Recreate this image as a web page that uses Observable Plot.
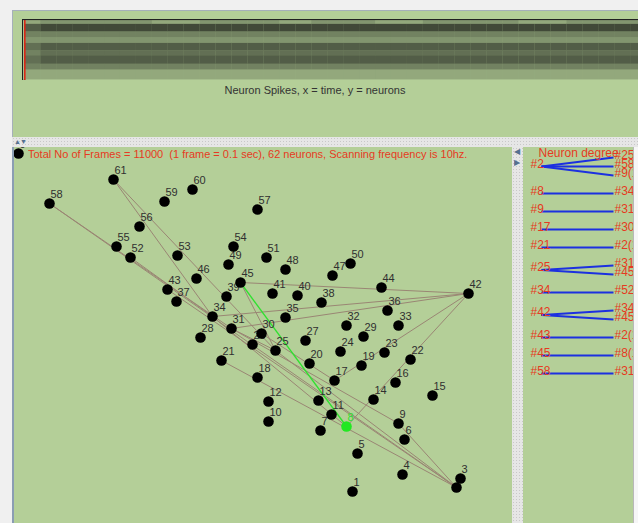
<!DOCTYPE html>
<html><head><meta charset="utf-8">
<script src="https://cdn.jsdelivr.net/npm/d3@7"></script>
<script src="https://cdn.jsdelivr.net/npm/@observablehq/plot@0.6"></script>
<style>
html,body{margin:0;padding:0}
body{width:638px;height:523px;overflow:hidden;background:#f0f0f0;position:relative;font-family:Arial,"Liberation Sans",sans-serif}
.abs{position:absolute;overflow:hidden}
.green{background:#b4cf98}
.dots{background-color:#e6e6e6;background-image:radial-gradient(#c8c8c8 0.6px,transparent 0.7px);background-size:3px 3px}
svg{max-width:none!important}
</style></head><body>

<div class="abs green" style="left:12px;top:10px;width:626px;height:127px;border-left:1px solid #a6b0ba;border-top:1px solid #a6b0ba"></div>
<div id="raster" class="abs" style="left:22px;top:19px;width:616px;height:61px"></div>
<div class="abs" style="left:12px;top:84px;width:606px;text-align:center;font-size:11px;color:#333">Neuron Spikes, x = time, y = neurons</div>

<div class="abs dots" style="left:12px;top:137px;width:626px;height:10px"></div>
<div class="abs" style="left:14px;top:137px;width:16px;height:10px;font-size:7px;line-height:10px;color:#56708f;letter-spacing:-1px">▲▼</div>

<div id="net" class="abs green" style="left:12px;top:147px;width:500px;height:376px;border-left:2px solid #8b9db3;box-sizing:border-box"></div>
<div class="abs" style="left:28px;top:148px;font-size:11px;color:#e63a22;white-space:nowrap">Total No of Frames = 11000&nbsp; (1 frame = 0.1 sec), 62 neurons, Scanning frequency is 10hz.</div>

<div class="abs dots" style="left:512px;top:147px;width:11px;height:376px"></div>
<div class="abs" style="left:514px;top:146px;width:9px;height:24px;font-size:8px;line-height:11px;color:#56708f">◀<br>▶</div>

<div id="deg" class="abs green" style="left:523px;top:147px;width:110px;height:376px"></div>
<div class="abs" style="left:633px;top:147px;width:5px;height:376px;background:#f6f6f6;border-left:1px solid #b8b8b8"></div>

<script>
// ---------------- DATA ----------------
// Neuron layout (ids and map coordinates in the network view)
const neuronIds = [0,1,2,3,4,5,6,7,8,9,10,11,12,13,14,15,16,17,18,19,20,21,22,23,24,25,26,27,28,29,30,31,32,33,34,35,36,37,38,39,40,41,42,43,44,45,46,47,48,49,50,51,52,53,54,55,56,57,58,59,60,61];
const neuronX = [18,352,456,460,402,357,404,320,346,398,268,331,268,318,373,432,395,334,257,361,309,221,410,384,340,275,252,305,200,363,261,231,346,398,212,285,387,176,321,226,297,272,468,167,381,240,196,332,285,228,350,266,130,177,233,116,139,257,49,164,192,113];
const neuronY = [153,491,487,478,474,453,439,430,426,423,421,414,401,400,399,395,382,380,377,365,363,360,359,352,351,350,344,340,337,336,333,328,325,325,316,317,310,301,302,296,295,293,293,289,287,282,278,275,269,264,263,257,257,255,246,246,226,209,203,201,189,179];

// Connections between neurons
const edgeFrom = [58,58,61,61,52,43,21,25,2,9,8,17,25,25,42,42,42,42,42,45];
const edgeTo   = [31,2, 34,25,34,2, 2, 2, 9,31,34,30,31,45,34,45,31,17,8, 8];
const activeNeuron = 8;
const activeEdge = [45, 8];

// Degree panel
const degreeSources = [2,8,9,17,21,25,34,42,43,45,58];
const degreeTargets = [["#25","#58","#9(1)"],["#34"],["#31"],["#30"],["#2(1)"],["#31","#45"],["#52"],["#34","#45"],["#2(1)"],["#8(1)"],["#31"]];

// Spike raster: neuron bands (first, last+1) and spike density per time bin (0-9)
const totalFrames = 11000;
const currentFrame = 0;
const rasterBandStart = [0,4,12,18,24,32,37,46,52];
const rasterBandEnd   = [4,12,18,24,32,37,46,52,62];
const rasterDensity = [
  "2333333322233333223333222333333222333332",
  "6777777777777777777777777777777777777777",
  "4444444444444444444444444444444444444444",
  "3333333333333333333333333333333333333333",
  "5666666666666666666666666666666666666666",
  "4555555555555555555555555555555555555555",
  "5666666666666666666666666666666666666666",
  "4444444444444444444444444444444444444444",
  "2222222222222222222222222222222222222222"
];

// ---------------- RASTER ----------------
const nBins = rasterDensity[0].length;
const binW = totalFrames / nBins;
const rasterCells = [];
rasterDensity.forEach((row, b) => {
  [...row].forEach((ch, i) => {
    rasterCells.push({x1: i*binW, x2: (i+1)*binW, y1: rasterBandStart[b], y2: rasterBandEnd[b], d: +ch});
  });
});
const raster = Plot.plot({
  width: 640, height: 61, margin: 0,
  x: {domain: [-40, totalFrames], range: [0, 640], axis: null},
  y: {domain: [0, 62], range: [1, 60], axis: null},
  style: {background: "transparent"},
  marks: [
    Plot.rect(rasterCells, {x1: "x1", x2: "x2", y1: "y1", y2: "y2", fill: "#101010", fillOpacity: d => d.d / 10, inset: 0}),
    Plot.ruleX([currentFrame], {stroke: "#e02010", strokeWidth: 1.5}),
    Plot.frame({stroke: "#222", strokeWidth: 1.2})
  ]
});
document.getElementById("raster").append(raster);

// ---------------- NETWORK ----------------
const nodes = neuronIds.map((id, i) => ({id, x: neuronX[i], y: neuronY[i]}));
const byId = new Map(nodes.map(d => [d.id, d]));
const edges = edgeFrom.map((s, i) => ({s: byId.get(s), t: byId.get(edgeTo[i]),
  active: s === activeEdge[0] && edgeTo[i] === activeEdge[1]}));
const net = Plot.plot({
  width: 500, height: 376, margin: 0,
  x: {domain: [14, 514], range: [0, 500], axis: null},
  y: {domain: [147, 523], range: [0, 376], axis: null},
  style: {background: "transparent", overflow: "hidden"},
  marks: [
    Plot.link(edges.filter(e => !e.active), {x1: e => e.s.x, y1: e => e.s.y, x2: e => e.t.x, y2: e => e.t.y, stroke: "#9a8674", strokeWidth: 1}),
    Plot.link(edges.filter(e => e.active), {x1: e => e.s.x, y1: e => e.s.y, x2: e => e.t.x, y2: e => e.t.y, stroke: "#30e030", strokeWidth: 1.3}),
    Plot.text(nodes.filter(d => d.id !== activeNeuron), {x: "x", y: "y", text: "id", textAnchor: "start", dx: 1, dy: -9, fontSize: 11, fill: "#303030", fontFamily: "Arial"}),
    Plot.text(nodes.filter(d => d.id === activeNeuron), {x: "x", y: "y", text: "id", textAnchor: "start", dx: 1, dy: -9, fontSize: 11, fill: "#30e030", fontFamily: "Arial"}),
    Plot.dot(nodes.filter(d => d.id !== activeNeuron), {x: "x", y: "y", r: 5.3, fill: "black", stroke: "none"}),
    Plot.dot(nodes.filter(d => d.id === activeNeuron), {x: "x", y: "y", r: 5.3, fill: "#22e822", stroke: "none"})
  ]
});
document.getElementById("net").append(net);

// ---------------- DEGREE PANEL ----------------
let slot = 0;
const degLinks = [], srcLabels = [], tgtLabels = [];
degreeSources.forEach((s, i) => {
  const ts = degreeTargets[i];
  const first = slot;
  ts.forEach(t => { tgtLabels.push({slot, text: t}); slot++; });
  const mid = (first + slot - 1) / 2;
  srcLabels.push({slot: mid, text: "#" + s});
  ts.forEach((t, j) => degLinks.push({y1: mid, y2: first + j}));
  slot += 1;
});
const deg = Plot.plot({
  width: 110, height: 376, margin: 0,
  x: {type: "point", domain: ["source", "target"], range: [18, 90], padding: 0, axis: null},
  y: {domain: [0, 24], range: [10, 226], axis: null},
  style: {background: "transparent", overflow: "hidden"},
  marks: [
    Plot.link(degLinks, {x1: () => "source", x2: () => "target", y1: "y1", y2: "y2", stroke: "#1c30e0", strokeWidth: 2}),
    Plot.text(["Neuron degree"], {x: () => "source", y: () => 0, text: d => d, textAnchor: "start", dx: -3, dy: -1, lineAnchor: "bottom", fontSize: 12, fill: "#e63a22", fontFamily: "Arial"}),
    Plot.text(srcLabels, {x: () => "source", y: "slot", text: "text", textAnchor: "start", dx: -11, dy: 1, lineAnchor: "bottom", fontSize: 12, fill: "#e63a22", fontFamily: "Arial"}),
    Plot.text(tgtLabels, {x: () => "target", y: "slot", text: "text", textAnchor: "start", dx: 1, dy: 1, lineAnchor: "bottom", fontSize: 12, fill: "#e63a22", fontFamily: "Arial"})
  ]
});
document.getElementById("deg").append(deg);
</script>
</body></html>
